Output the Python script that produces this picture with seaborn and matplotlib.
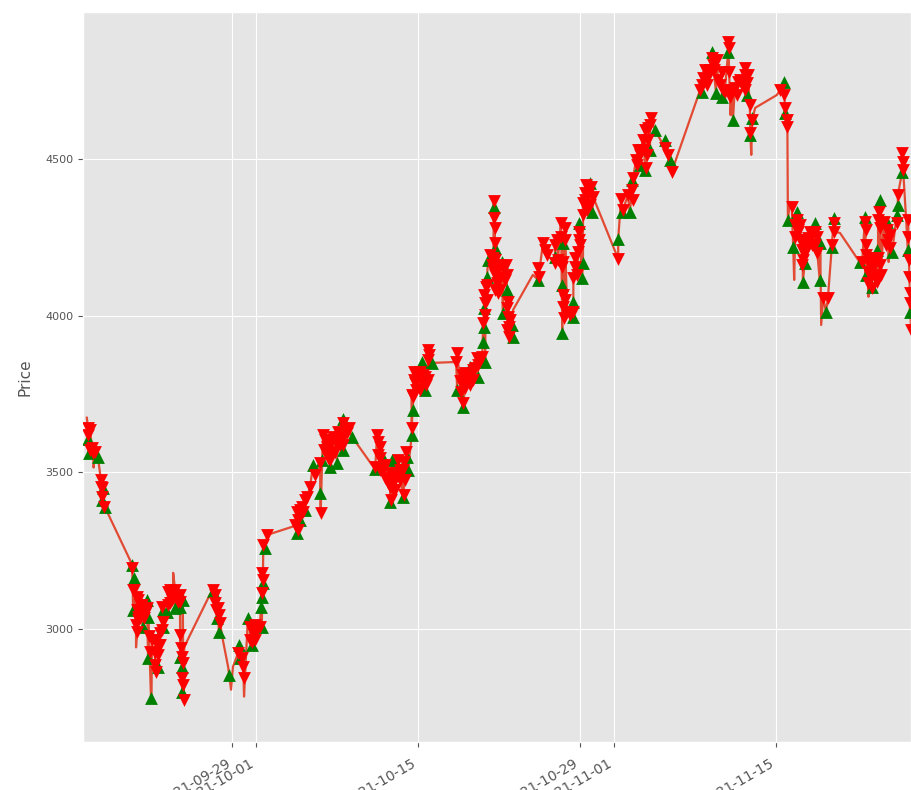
import pandas as pd
import numpy as np
import matplotlib
matplotlib.use("Agg")
import matplotlib.pyplot as plt
import matplotlib.dates as mdates
import seaborn as sns

# hours counted from the start date, prices
start = pd.Timestamp("2021-09-16")

sell_hours = [12, 13, 21, 23, 39, 40, 41, 42, 46, 104, 106, 114, 120, 115, 135, 116, 126, 117, 139, 140, 151, 152,
              162, 168, 166, 158, 178, 189, 203, 187, 199, 204, 205, 207, 209, 208, 210, 211,
              272, 276, 282, 284, 286, 324, 332, 334, 335, 348, 369, 355, 352, 363, 373, 374, 375, 376, 384,
              446, 452, 447, 448, 456, 467, 473, 483, 494, 495, 500, 510, 521, 535, 550, 541, 501, 514, 508, 529, 542,
              612, 613, 618, 614, 608, 624, 639, 635, 640, 653, 666, 667, 660, 645, 672, 684, 686, 691, 697, 705, 711, 718, 719,
              778, 776, 790, 784, 791, 798, 805, 811, 819, 830, 832, 836, 837, 854, 855, 856, 857, 852, 853, 861, 863, 873, 881, 867,
              882, 884, 885, 886, 946, 947, 956, 964, 985, 993, 994, 981, 996, 997, 998, 999, 1018, 1019, 1022, 1029, 1030, 1031,
              1043, 1039, 1047, 1056, 1060, 1112, 1118, 1122, 1141, 1142, 1149, 1157, 1168, 1174, 1172, 1169, 1180, 1209, 1215, 1223,
              1286, 1282, 1292, 1306, 1308, 1317, 1298, 1319, 1329, 1340, 1341, 1342, 1344, 1358, 1375, 1376, 1365, 1379, 1385, 1390, 1386,
              1448, 1456, 1458, 1462, 1463, 1472, 1483, 1484, 1479, 1493, 1506, 1520, 1524, 1499, 1495, 1525, 1537, 1547, 1555, 1559, 1560,
              1618, 1624, 1625, 1626, 1645, 1640, 1646, 1630, 1653, 1651, 1669, 1672, 1676, 1690, 1692, 1701, 1702, 1703,
              1713, 1714, 1715, 1716, 1717, 1718, 1719,
              # denser part of the clusters
              16, 16, 27, 108, 116, 124, 128, 132, 120, 112, 114, 145, 151, 158, 154, 162, 166,
              182, 193, 182, 195, 203, 178, 278, 276, 358, 358, 348, 442, 458, 462,
              504, 514, 525, 525, 535, 546, 518, 510, 531, 553, 541,
              618, 628, 643, 651, 628, 649, 659, 668, 670, 655, 639, 618,
              684, 688, 688, 692, 701, 701, 707, 713, 717, 718,
              788, 794, 800, 794, 805, 811, 815, 821, 786, 836, 834, 840, 840,
              846, 850, 856, 856, 856, 867, 863, 879, 867, 877, 887, 882, 884,
              960, 981, 1002, 1002, 987, 998, 1002, 1006, 1012, 1022, 1033, 1027, 1043, 1045, 1049, 1053, 1039,
              1151, 1159, 1163, 1178, 1166, 1174, 1153, 1143, 1132,
              1288, 1296, 1302, 1310, 1323, 1327, 1333, 1348, 1354, 1369, 1375, 1360, 1381,
              1479, 1489, 1489, 1485, 1499, 1510, 1514, 1504, 1493, 1493, 1520, 1514,
              1630, 1630, 1638, 1634, 1651, 1655, 1651, 1638, 1649, 1657, 1626, 1655, 1663, 1675, 1667]
sell_price = [3642, 3620, 3578, 3562, 3476, 3454, 3450, 3422, 3390, 3195, 3125, 3103, 3077, 3061, 3068, 3029, 3052, 3039, 2978, 2927, 2924, 2886,
              2988, 3023, 3071, 2950, 3119, 3109, 3109, 3093, 3087, 2982, 2940, 2911, 2892, 2844, 2822, 2774,
              3125, 3084, 3068, 3045, 3020, 2924, 2908, 2879, 2844, 3007, 3007, 2988, 2959, 2998, 3116, 3179, 3157, 3269, 3300,
              3374, 3380, 3316, 3348, 3390, 3422, 3454, 3492, 3530, 3371, 3620, 3604, 3613, 3613, 3626, 3658, 3572, 3540, 3581, 3594, 3610,
              3620, 3597, 3581, 3556, 3517, 3508, 3498, 3466, 3412, 3498, 3508, 3428, 3476, 3444, 3565, 3642, 3741, 3785, 3804, 3785, 3804, 3891, 3875,
              3881, 3852, 3785, 3792, 3722, 3795, 3804, 3827, 3865, 3868, 3977, 4041, 4092, 4366, 4312, 4280, 4232, 4184, 4146, 4104, 4072, 4152, 4130, 4120,
              4025, 3996, 3964, 3932, 4152, 4124, 4232, 4194, 4242, 4296, 4251, 4168, 4155, 4066, 4028, 3993, 4012, 4120, 4155, 4203, 4242, 4267,
              4392, 4360, 4337, 4411, 4379, 4181, 4372, 4337, 4401, 4369, 4497, 4513, 4593, 4561, 4513, 4471, 4631, 4535, 4513, 4459,
              4736, 4720, 4784, 4822, 4800, 4816, 4762, 4752, 4720, 4873, 4854, 4778, 4698, 4704, 4790, 4768, 4752, 4742, 4672, 4624, 4583,
              4721, 4705, 4663, 4624, 4602, 4347, 4305, 4273, 4251, 4242, 4248, 4267, 4251, 4200, 4178, 4200, 4057, 4057, 4226, 4296, 4267,
              4171, 4299, 4273, 4226, 4184, 4152, 4124, 4104, 4331, 4305, 4273, 4242, 4216, 4296, 4385, 4519, 4490, 4465,
              4305, 4251, 4178, 4124, 4073, 4041, 3954,
              # denser part of the clusters
              3636, 3572, 3565, 3125, 3093, 3077, 3036, 3055, 3036, 3013, 2991, 2965, 2965, 2917, 2863, 2950, 2998,
              3125, 3125, 3084, 3100, 3087, 3077, 3061, 3109, 3014, 2965, 2965, 3332, 3374, 3412,
              3604, 3588, 3604, 3565, 3588, 3635, 3556, 3546, 3629, 3642, 3588,
              3508, 3482, 3476, 3482, 3524, 3444, 3508, 3533, 3476, 3540, 3454, 3546,
              3747, 3795, 3820, 3763, 3820, 3763, 3810, 3779, 3795, 3859,
              3811, 3817, 3801, 3769, 3779, 3795, 3833, 3842, 3757, 4002, 4066, 4050, 4098,
              4194, 4162, 4178, 4130, 4082, 4162, 4146, 4162, 4082, 4114, 3986, 3954, 4044,
              4210, 4226, 4242, 4280, 4178, 4171, 4050, 4012, 4002, 4184, 4226, 4130, 4369, 4417, 4385, 4353, 4321,
              4481, 4529, 4561, 4608, 4529, 4599, 4529, 4439, 4385,
              4758, 4736, 4784, 4784, 4736, 4778, 4714, 4720, 4727, 4736, 4720, 4746, 4768,
              4289, 4289, 4242, 4267, 4242, 4267, 4226, 4216, 4210, 4162, 4226, 4258,
              4171, 4140, 4184, 4130, 4184, 4162, 4120, 4089, 4108, 4130, 4194, 4280, 4299, 4258, 4226]

buy_hours = [13, 14, 33, 42, 43, 47, 104, 108, 135, 137, 126, 106, 143, 137, 158, 168, 167, 176, 193, 209, 203, 207, 208, 204,
             272, 284, 280, 305, 326, 328, 344, 373, 352, 371, 373, 375, 380,
             446, 452, 462, 494, 479, 498, 514, 529, 541, 560, 541,
             608, 624, 643, 639, 666, 676, 674, 684, 686, 711, 726, 705,
             778, 790, 805, 821, 836, 832, 833, 834, 840, 854, 856, 842, 871, 881, 892, 893, 873,
             946, 995, 996, 1018, 1019, 998, 981, 1031, 1037, 1039, 1058, 1054,
             1112, 1120, 1136, 1141, 1157, 1178, 1188, 1168, 1209, 1219,
             1286, 1306, 1340, 1315, 1327, 1350, 1379, 1386, 1390,
             1456, 1458, 1464, 1483, 1475, 1495, 1530, 1531, 1520, 1499, 1543, 1559, 1555,
             1613, 1624, 1655, 1625, 1638, 1669, 1680, 1692, 1690, 1701, 1713, 1717, 1649]
buy_price = [3607, 3562, 3549, 3412, 3450, 3390, 3205, 3163, 3093, 3039, 3007, 3061, 2781, 2908, 2879, 3061, 3007, 3055, 3068, 3093, 3071, 2879, 2800, 2911,
             3122, 2991, 3036, 2854, 2950, 2908, 3036, 3007, 2950, 3071, 3103, 3147, 3259,
             3307, 3348, 3380, 3434, 3524, 3540, 3518, 3530, 3572, 3613, 3670,
             3511, 3546, 3540, 3406, 3422, 3508, 3549, 3620, 3699, 3763, 3849, 3852,
             3763, 3709, 3836, 3804, 3852, 3916, 3964, 4025, 4124, 4347, 4216, 4178, 4171, 4082, 3970, 3932, 4009,
             4114, 4098, 3945, 4044, 3996, 4232, 4187, 4296, 4120, 4168, 4331, 4424,
             4245, 4331, 4331, 4433, 4481, 4529, 4593, 4465, 4561, 4497,
             4714, 4841, 4841, 4711, 4698, 4624, 4704, 4576, 4631,
             4746, 4647, 4305, 4331, 4219, 4108, 4114, 4232, 4296, 4168, 4012, 4312, 4219,
             4171, 4315, 4369, 4130, 4092, 4299, 4203, 4353, 4322, 4459, 4210, 4012, 4210]

# closes that carry no marker (spikes and the ends of the gaps)
other_hours = [10, 24, 37, 112, 144, 189, 212, 336, 292, 303, 309, 313, 1463, 1468, 1388, 1345, 1477, 1533, 1631, 1673,
               1572, 1607, 1396, 1441, 894, 935, 601, 436, 265]
other_price = [3674, 3515, 3499, 2941, 2765, 3179, 2943, 2784, 2965, 2879, 2806, 2879, 4583, 4363, 4513, 4640, 4114, 3970, 4060, 4171,
               4264, 4184, 4663, 4704, 4018, 4130, 3524, 3326, 3109]

tick_dates = ["2021-09-29", "2021-10-01", "2021-10-15", "2021-10-29", "2021-11-01", "2021-11-15"]
price_ticks = [3000, 3500, 4000, 4500]

def to_time(hours):
    return start + pd.to_timedelta(hours, unit="h")

sell = pd.DataFrame({"Date": to_time(sell_hours), "Price": sell_price})
buy = pd.DataFrame({"Date": to_time(buy_hours), "Price": buy_price})
other = pd.DataFrame({"Date": to_time(other_hours), "Price": other_price})
close = pd.concat([sell, buy, other]).sort_values("Date")

plt.style.use("ggplot")
fig = plt.figure(figsize=(9.11, 7.9), dpi=100)
ax = fig.add_axes([83 / 911, 48 / 790, 828 / 911, 730 / 790])

sns.lineplot(data=close, x="Date", y="Price", color="#E24A33", linewidth=1.6, estimator=None, sort=False, ax=ax, zorder=2)
sns.scatterplot(data=buy, x="Date", y="Price", marker="^", color="green", s=85, linewidth=0, ax=ax, zorder=3)
sns.scatterplot(data=sell, x="Date", y="Price", marker="v", color="red", s=85, linewidth=0, ax=ax, zorder=4)

ax.set_xlim(to_time(2), to_time(1719.3))
ax.set_ylim(2639, 4969)
ax.set_yticks(price_ticks)
ax.set_xticks(pd.to_datetime(tick_dates))
ax.xaxis.set_major_formatter(mdates.DateFormatter("%Y-%m-%d"))
ax.tick_params(axis="y", labelsize=8)
ax.tick_params(axis="x", labelsize=10, pad=7)
plt.setp(ax.get_xticklabels(), rotation=30, ha="right")
ax.set_xlabel("")
ax.set_ylabel("Price", fontsize=11, labelpad=9)

fig.savefig("out.png", dpi=100)
